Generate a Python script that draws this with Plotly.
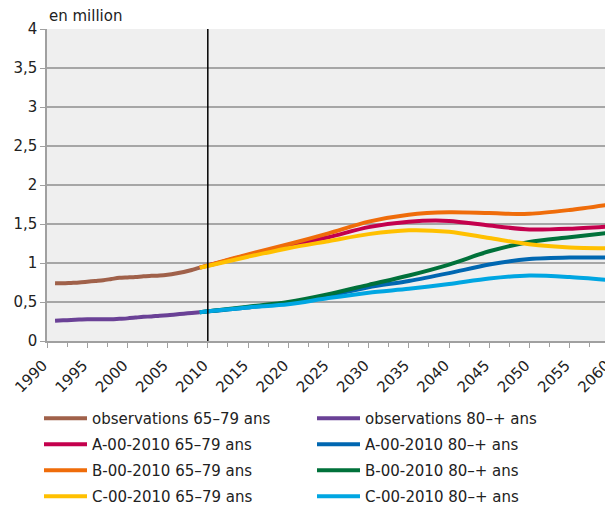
import plotly.graph_objects as go

# ---- data ----
obs_years = [1991, 1992, 1993, 1994, 1995, 1996, 1997, 1998, 1999, 2000,
             2001, 2002, 2003, 2004, 2005, 2006, 2007, 2008, 2009]
obs_65_79 = [0.74, 0.74, 0.745, 0.75, 0.76, 0.77, 0.78, 0.795, 0.81, 0.815,
             0.82, 0.83, 0.835, 0.84, 0.85, 0.865, 0.885, 0.91, 0.94]
obs_80 = [0.26, 0.265, 0.27, 0.275, 0.28, 0.28, 0.28, 0.28, 0.285, 0.29,
          0.30, 0.31, 0.315, 0.325, 0.33, 0.34, 0.35, 0.36, 0.37]

proj_years = [2009, 2015, 2020, 2025, 2030, 2035, 2040, 2045, 2050, 2055, 2060]
A_65_79 = [0.94, 1.10, 1.22, 1.33, 1.46, 1.53, 1.54, 1.48, 1.43, 1.44, 1.47]
B_65_79 = [0.94, 1.11, 1.24, 1.38, 1.53, 1.62, 1.65, 1.64, 1.63, 1.68, 1.75]
C_65_79 = [0.94, 1.08, 1.19, 1.28, 1.37, 1.42, 1.40, 1.32, 1.24, 1.20, 1.19]
A_80 = [0.37, 0.43, 0.49, 0.58, 0.69, 0.77, 0.87, 0.98, 1.05, 1.07, 1.07]
B_80 = [0.37, 0.44, 0.50, 0.60, 0.72, 0.84, 0.98, 1.15, 1.27, 1.33, 1.39]
C_80 = [0.37, 0.43, 0.47, 0.55, 0.62, 0.67, 0.73, 0.80, 0.84, 0.82, 0.78]

y_ticks = [0, 0.5, 1, 1.5, 2, 2.5, 3, 3.5, 4]
y_ticklabels = ["0", "0,5", "1", "1,5", "2", "2,5", "3", "3,5", "4"]
x_ticks = list(range(1990, 2061, 5))

series = [
    ("observations 65–79 ans", obs_years, obs_65_79, "#a0614a", "legend"),
    ("observations 80–+ ans", obs_years, obs_80, "#6a4196", "legend2"),
    ("A-00-2010 65–79 ans", proj_years, A_65_79, "#c4004d", "legend"),
    ("A-00-2010 80–+ ans", proj_years, A_80, "#0067b1", "legend2"),
    ("B-00-2010 65–79 ans", proj_years, B_65_79, "#ef6c0a", "legend"),
    ("B-00-2010 80–+ ans", proj_years, B_80, "#00713a", "legend2"),
    ("C-00-2010 65–79 ans", proj_years, C_65_79, "#ffc000", "legend"),
    ("C-00-2010 80–+ ans", proj_years, C_80, "#00a6e2", "legend2"),
]

FONT = "DejaVu Sans"
TXT = "#222222"
W, H = 605, 498  # page body adds an 8px offset

fig = go.Figure()
for i, (name, xs, ys, col, lg) in enumerate(series):
    fig.add_trace(go.Scatter(
        x=xs, y=ys, name=name, mode="lines", legend=lg, legendgroup="g%d" % i,
        line=dict(color=col, width=4, shape="spline", smoothing=0.8),
    ))

fig.add_shape(type="line", x0=2010, x1=2010, y0=0, y1=4, xref="x", yref="y",
              line=dict(color="black", width=1.5), layer="above")

fig.add_annotation(text="en million", xref="paper", yref="paper",
                   x=0.0, y=1.0, xanchor="left", yanchor="bottom", yshift=2,
                   showarrow=False, font=dict(family=FONT, size=15, color=TXT))

leg_common = dict(orientation="v", xanchor="left", yanchor="top",
                  xref="container", yref="container",
                  traceorder="grouped", tracegroupgap=3.5, itemwidth=43,
                  font=dict(family=FONT, size=15, color=TXT),
                  bgcolor="rgba(0,0,0,0)", borderwidth=0)

fig.update_layout(
    width=W, height=H,
    margin=dict(l=39, r=3, t=21, b=165, autoexpand=False),
    paper_bgcolor="white",
    plot_bgcolor="#efefef",
    font=dict(family=FONT, size=15, color=TXT),
    showlegend=True,
    legend=dict(x=31 / W, y=1 - 394 / H, **leg_common),
    legend2=dict(x=304 / W, y=1 - 394 / H, **leg_common),
)
fig.update_xaxes(range=[1990, 2060.02], tickvals=x_ticks, tickangle=-45,
                 ticks="outside", ticklen=5, tickcolor="#a0a0a0",
                 ticklabeloverflow="allow", ticklabelshift=-4, ticklabelstandoff=3,
                 minor=dict(dtick=2.5, tick0=1990, ticks="outside", ticklen=4,
                            tickcolor="#a0a0a0", showgrid=False),
                 showgrid=False, zeroline=False, automargin=False,
                 showline=True, linecolor="#a0a0a0", linewidth=1.5,
                 tickfont=dict(family=FONT, size=15, color=TXT))
fig.update_yaxes(range=[0, 4], tickvals=y_ticks, ticktext=y_ticklabels,
                 ticks="outside", ticklen=5, tickcolor="#a0a0a0",
                 showgrid=True, gridcolor="#a6a6a6", gridwidth=1.5,
                 zeroline=False, automargin=False,
                 showline=True, linecolor="#a0a0a0", linewidth=1.5,
                 tickfont=dict(family=FONT, size=15, color=TXT))

fig.write_html("out.html")
